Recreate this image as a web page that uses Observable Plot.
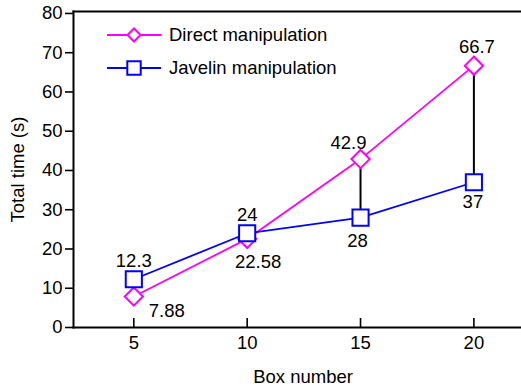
<!DOCTYPE html>
<html>
<head>
<meta charset="utf-8">
<script src="https://cdn.jsdelivr.net/npm/d3@7"></script>
<script src="https://cdn.jsdelivr.net/npm/@observablehq/plot@0.6"></script>
<style>
  html, body { margin: 0; padding: 0; background: #fff; }
  #chart { width: 521px; height: 390px; }
</style>
</head>
<body>
<div id="chart"></div>
<script>
// ---- data ----
const boxNumbers = [5, 10, 15, 20];
const directTimes = [7.88, 22.58, 42.9, 66.7];
const javelinTimes = [12.3, 24, 28, 37];
const seriesNames = ["Direct manipulation", "Javelin manipulation"];
const xTicks = [5, 10, 15, 20];
const yTicks = [0, 10, 20, 30, 40, 50, 60, 70, 80];

const direct = boxNumbers.map((b, i) => ({box: b, time: directTimes[i]}));
const javelin = boxNumbers.map((b, i) => ({box: b, time: javelinTimes[i]}));
// gaps shown as black connectors at 15 and 20
const gaps = boxNumbers.map((b, i) => ({box: b, lo: javelinTimes[i], hi: directTimes[i]})).filter(d => d.box >= 15);

const MAGENTA = "#ff00ff", BLUE = "#0000ff";
const FONT = "'Liberation Sans', Arial, sans-serif";
const FS = 18.5;

// label placement (style only): [series, index, dx, dy]
const labelPlacement = [
  [direct, 0, 33, 15], [direct, 1, 11, 23], [direct, 2, -12, -16], [direct, 3, 3, -19],
  [javelin, 0, 0, -18], [javelin, 1, 0, -18], [javelin, 2, -3, 23], [javelin, 3, -1, 20]
];

const labelMarks = labelPlacement.map(([s, i, dx, dy]) =>
  Plot.text([s[i]], {x: "box", y: "time", text: d => String(d.time), dx, dy,
    fill: "black", fontSize: FS, textAnchor: "middle", lineAnchor: "middle"}));

const plot = Plot.plot({
  width: 521,
  height: 390,
  marginLeft: 73,
  marginRight: 0,
  marginTop: 11,
  marginBottom: 63,
  style: {fontFamily: FONT, fontSize: FS + "px", background: "white", color: "black"},
  x: {domain: [2.34, 22.1], label: null},
  y: {domain: [0, 80.5], label: null},
  marks: [
    Plot.axisY({ticks: yTicks, tickSize: 8, tickPadding: 3, fontSize: FS, strokeWidth: 1.6, label: null}),
    Plot.axisX({ticks: xTicks, tickSize: -9, tickPadding: 17, fontSize: FS, strokeWidth: 1.6, label: null}),
    Plot.frame({anchor: "top", strokeWidth: 2}),
    Plot.frame({anchor: "left", strokeWidth: 2}),
    Plot.frame({anchor: "bottom", strokeWidth: 2}),
    Plot.lineY(direct, {x: "box", y: "time", stroke: MAGENTA, strokeWidth: 1.8}),
    Plot.lineY(javelin, {x: "box", y: "time", stroke: BLUE, strokeWidth: 1.8}),
    Plot.ruleX(gaps, {x: "box", y1: "lo", y2: "hi", stroke: "black", strokeWidth: 2}),
    Plot.dot(direct, {x: "box", y: "time", symbol: "diamond2", r: 8.2, stroke: MAGENTA, fill: "white", strokeWidth: 2}),
    Plot.dot(javelin, {x: "box", y: "time", symbol: "square", r: 9.1, stroke: BLUE, fill: "white", strokeWidth: 2}),
    ...labelMarks,
    Plot.text(["Total time (s)"], {frameAnchor: "left", dx: -55.5, rotate: -90, text: d => d, fontSize: FS, textAnchor: "middle", lineAnchor: "middle", fill: "black"}),
    Plot.text(["Box number"], {frameAnchor: "bottom", dx: 5.5, dy: 49.5, text: d => d, fontSize: FS, textAnchor: "middle", lineAnchor: "middle", fill: "black"})
  ]
});

document.getElementById("chart").appendChild(plot);

// ---- legend inside the plot area ----
const svg = d3.select(plot);
const legendItems = [
  {name: seriesNames[0], color: MAGENTA, symbol: d3.symbolDiamond2, size: 110, y: 35},
  {name: seriesNames[1], color: BLUE, symbol: d3.symbolSquare, size: 180, y: 68}
];
const lg = svg.append("g").attr("font-family", FONT).attr("font-size", FS).attr("text-anchor", "start");
legendItems.forEach(it => {
  lg.append("line").attr("x1", 107).attr("x2", 161).attr("y1", it.y).attr("y2", it.y)
    .attr("stroke", it.color).attr("stroke-width", 1.8);
  lg.append("path").attr("d", d3.symbol(it.symbol, it.size)())
    .attr("transform", `translate(134,${it.y})`)
    .attr("fill", "white").attr("stroke", it.color).attr("stroke-width", 2);
  lg.append("text").attr("x", 169).attr("y", it.y).attr("dy", "0.35em")
    .attr("text-anchor", "start").attr("fill", "black").text(it.name);
});
</script>
</body>
</html>
